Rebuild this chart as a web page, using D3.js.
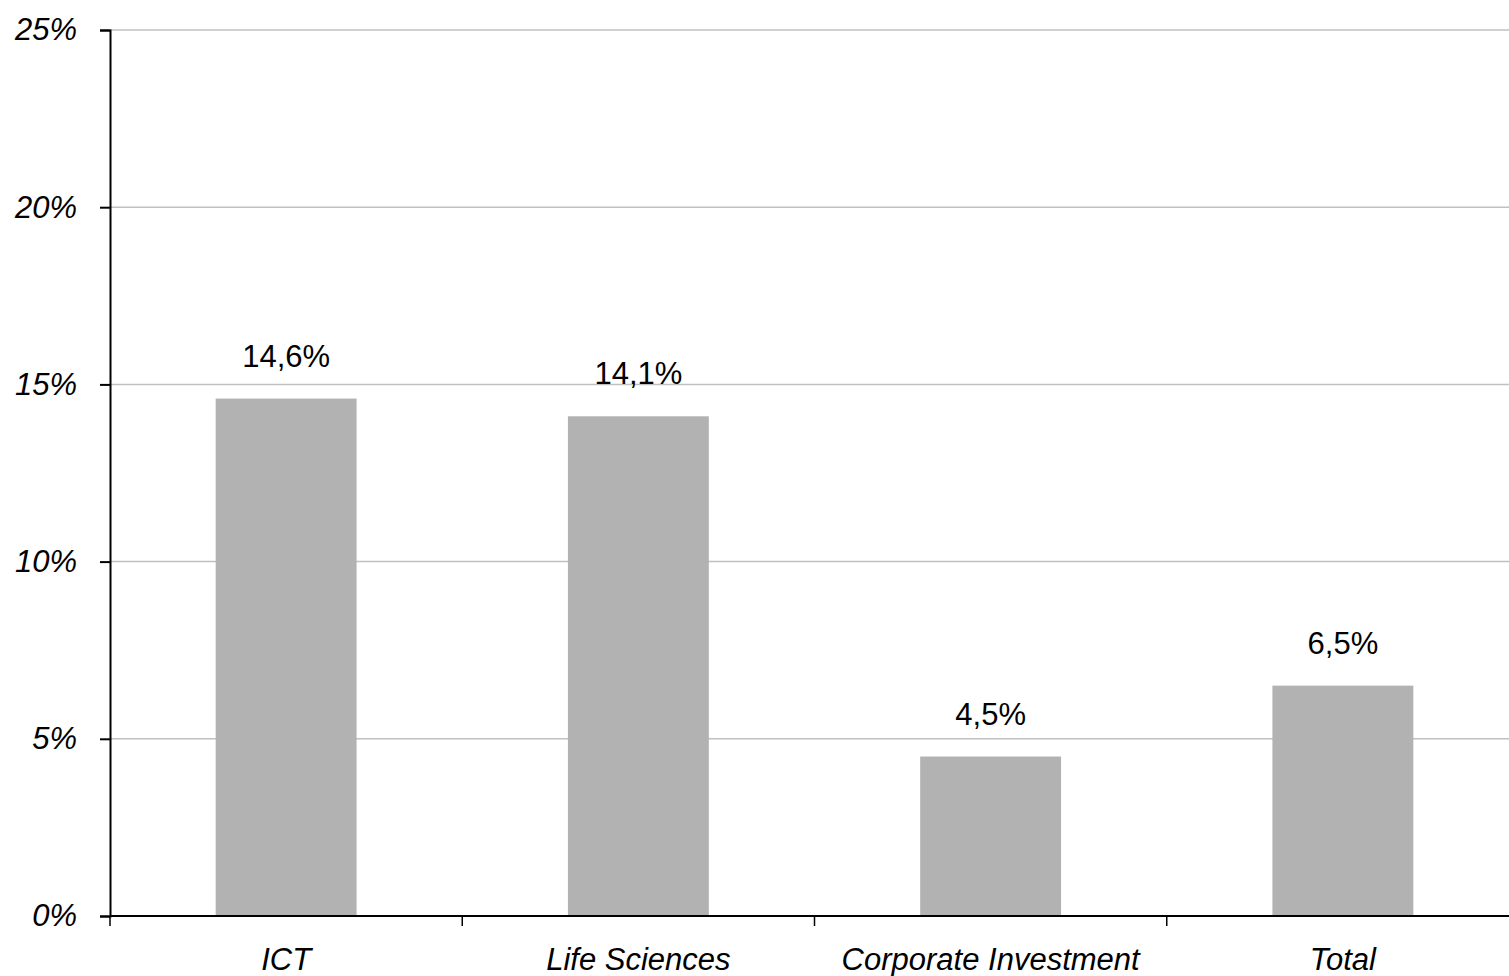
<!DOCTYPE html>
<html>
<head>
<meta charset="utf-8">
<script src="https://cdn.jsdelivr.net/npm/d3@7"></script>
<style>
  body { margin: 0; background: #fff; }
  svg { display: block; font-family: "Liberation Sans", Arial, sans-serif; }
</style>
</head>
<body>
<div id="chart"></div>
<script>
const categories = ["ICT", "Life Sciences", "Corporate Investment", "Total"];
const values = [14.6, 14.1, 4.5, 6.5];
const yTicks = [0, 5, 10, 15, 20, 25];

const W = 1509, H = 976;
const margin = { top: 30, right: -10, bottom: 60, left: 110 };
const width = W - margin.left - margin.right,
  height = H - margin.top - margin.bottom;

const x = d3.scaleBand().domain(categories).range([0, width]).padding(0);
const y = d3.scaleLinear().domain([0, 25]).range([height, 0]);
const barW = x.bandwidth() * 0.4;

const svg = d3.select("#chart").append("svg")
  .attr("width", W).attr("height", H);
const g = svg.append("g")
  .attr("transform", "translate(" + margin.left + "," + margin.top + ")");

// gridlines
g.selectAll(".grid").data(yTicks.filter(d => d > 0)).enter()
  .append("line")
  .attr("x1", 0).attr("x2", W - margin.left)
  .attr("y1", d => y(d)).attr("y2", d => y(d))
  .attr("stroke", "#c0c0c0").attr("stroke-width", 1.5);

// bars
g.selectAll(".bar").data(values).enter()
  .append("rect")
  .attr("x", (d, i) => x(categories[i]) + (x.bandwidth() - barW) / 2)
  .attr("y", d => y(d))
  .attr("width", barW)
  .attr("height", d => height - y(d))
  .attr("fill", "#b2b2b2");

// value labels
g.selectAll(".val").data(values).enter()
  .append("text")
  .attr("x", (d, i) => x(categories[i]) + x.bandwidth() / 2)
  .attr("y", d => y(d) - 32)
  .attr("text-anchor", "middle")
  .attr("font-size", 31)
  .attr("fill", "#000")
  .text(d => d.toFixed(1).replace(".", ",") + "%");

// y axis
const yAxis = g.append("g")
  .call(d3.axisLeft(y).tickValues(yTicks).tickSize(10).tickPadding(23)
    .tickFormat(d => d + "%"));
yAxis.select(".domain").attr("stroke", "#000").attr("stroke-width", 2);
yAxis.selectAll(".tick line").attr("stroke", "#000").attr("stroke-width", 2);
yAxis.selectAll(".tick text")
  .attr("font-size", 31).attr("font-style", "italic")
  .attr("font-family", "Liberation Sans, Arial, sans-serif")
  .attr("fill", "#000").attr("dy", "0.32em");

// x axis
const xAxis = g.append("g")
  .attr("transform", "translate(0," + height + ")")
  .call(d3.axisBottom(x).tickSize(0).tickPadding(32));
xAxis.select(".domain").remove();
xAxis.append("line")
  .attr("x1", 0).attr("x2", W - margin.left)
  .attr("stroke", "#000").attr("stroke-width", 2);
xAxis.selectAll(".tick text")
  .attr("font-size", 31).attr("font-style", "italic")
  .attr("font-family", "Liberation Sans, Arial, sans-serif")
  .attr("fill", "#000");
// category boundary ticks
xAxis.selectAll(".sep").data(categories).enter()
  .append("line")
  .attr("x1", d => x(d)).attr("x2", d => x(d))
  .attr("y1", 0).attr("y2", 10)
  .attr("stroke", "#000").attr("stroke-width", 1.5);
</script>
</body>
</html>
